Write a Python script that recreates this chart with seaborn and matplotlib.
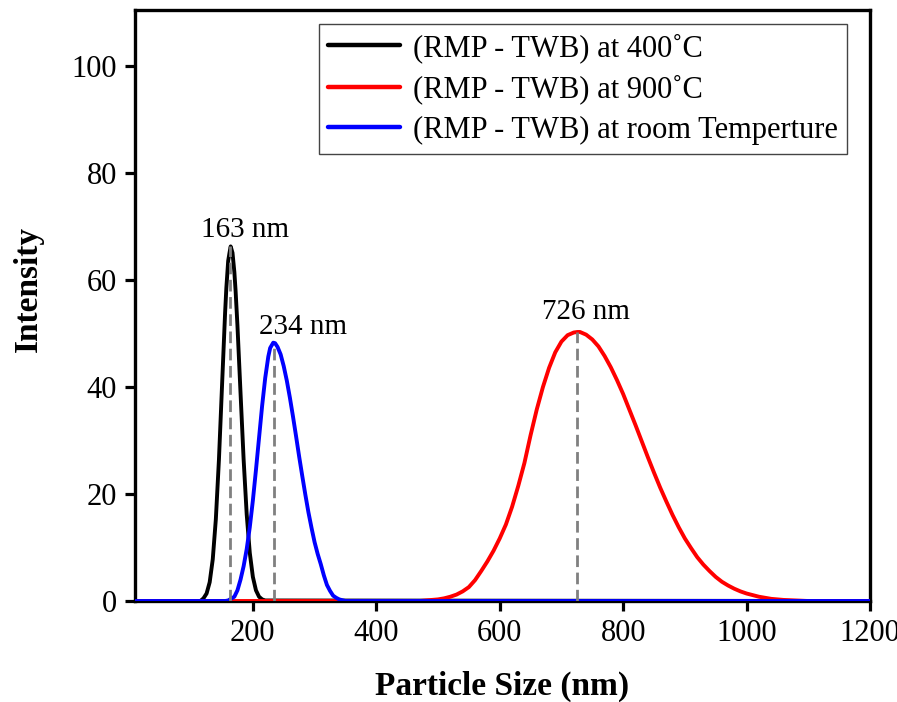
import numpy as np
import pandas as pd
import matplotlib
matplotlib.use("Agg")
import matplotlib.pyplot as plt
import seaborn as sns

# ---- data ----
size_400 = [9, 115, 120, 125, 130, 135, 140, 145, 150, 155, 157, 160, 162, 164, 167, 170, 172, 175,
            180, 185, 190, 195, 200, 205, 210, 215, 220, 1200]
int_400 = [0, 0.0, 0.5, 1.4, 3.5, 7.8, 15.3, 26.4, 40.2, 53.9, 58.5, 63.6, 65.0, 66.3, 65.1, 61.5, 58.0, 51.5,
           38.9, 26.5, 16.2, 9.0, 4.5, 2.0, 0.8, 0.3, 0.1, 0]

size_900 = [9, 470, 480, 490, 500, 510, 520, 530, 540, 550, 560, 570, 580, 590, 600, 610, 620, 630,
            640, 650, 660, 670, 680, 690, 700, 710, 720, 726, 730, 740, 750, 760, 770, 780, 790,
            800, 810, 820, 830, 840, 850, 860, 870, 880, 890, 900, 910, 920, 930, 940, 950, 960,
            970, 980, 990, 1000, 1020, 1040, 1060, 1080, 1100, 1200]
int_900 = [0, 0.0, 0.1, 0.2, 0.3, 0.5, 0.8, 1.2, 1.8, 2.6, 3.9, 5.6, 7.4, 9.4, 11.7, 14.3, 17.6, 21.5,
           25.8, 31.0, 35.8, 40.0, 43.6, 46.5, 48.5, 49.7, 50.2, 50.3, 50.3, 49.8, 48.9, 47.6, 45.8, 43.7, 41.3,
           38.7, 35.8, 32.9, 29.9, 26.9, 24.0, 21.2, 18.6, 16.1, 13.8, 11.7, 9.9, 8.2, 6.8, 5.6, 4.5, 3.6,
           2.9, 2.3, 1.8, 1.4, 0.8, 0.4, 0.2, 0.1, 0.0, 0]

size_rt = [9, 155, 160, 170, 175, 180, 185, 190, 195, 200, 205, 210, 215, 220, 225, 228, 233, 236, 240,
           245, 250, 255, 260, 265, 270, 275, 280, 285, 290, 295, 300, 305, 310, 315, 320, 325, 330,
           335, 340, 350, 1200]
int_rt = [0, 0.0, 0.1, 0.8, 2.0, 4.0, 6.5, 9.7, 13.8, 18.8, 24.5, 30.5, 36.5, 41.7, 45.7, 47.3, 48.3, 48.2, 47.5,
          46.1, 43.9, 41.2, 38.0, 34.5, 30.8, 27.0, 23.4, 19.9, 16.6, 13.7, 11.0, 8.8, 6.9, 4.8, 3.0, 1.9, 1.0,
          0.6, 0.3, 0.0, 0]

series_labels = ["(RMP - TWB) at 400\u02daC",
                 "(RMP - TWB) at 900\u02daC",
                 "(RMP - TWB) at room Temperture"]
series_colors = ["#000000", "#ff0000", "#0000ff"]

peak_pos = [163, 234, 726]
peak_height = [66.3, 48.3, 50.3]
peak_text = ["163 nm", "234 nm", "726 nm"]
text_pos_x = [187, 281, 739]
text_pos_y = [68.0, 50.0, 52.7]

x_ticks = [200, 400, 600, 800, 1000, 1200]
y_ticks = [0, 20, 40, 60, 80, 100]

# ---- style ----
sns.set_style("ticks")
plt.rcParams["font.family"] = ["Liberation Serif", "DejaVu Serif"]
plt.rcParams["mathtext.fontset"] = "stix"
for k in ["text.color", "axes.labelcolor", "xtick.color", "ytick.color", "axes.edgecolor"]:
    plt.rcParams[k] = "black"

fig = plt.figure(figsize=(8.97, 7.02), dpi=100)
ax = fig.add_axes([135 / 897, 1 - 601 / 702, 735 / 897, 591 / 702])

frames = [
    pd.DataFrame({"size": size_400, "intensity": int_400}),
    pd.DataFrame({"size": size_900, "intensity": int_900}),
    pd.DataFrame({"size": size_rt, "intensity": int_rt}),
]
for df, lab, col in zip(frames, series_labels, series_colors):
    sns.lineplot(data=df, x="size", y="intensity", ax=ax, color=col, lw=2.8,
                 label=lab, sort=False, estimator=None, zorder=3,
                 solid_joinstyle="round", solid_capstyle="round")

for px, ph in zip(peak_pos, peak_height):
    ax.plot([px, px], [0, ph], color="#808080", lw=2.0, dashes=(4.2, 2.0), zorder=4)

for tx, ty, tt in zip(text_pos_x, text_pos_y, peak_text):
    ax.text(tx, ty, tt, ha="center", va="baseline", fontsize=21, color="black")

ax.set_xlim(9, 1200)
ax.set_ylim(0, 110.5)
ax.set_xticks(x_ticks)
ax.set_yticks(y_ticks)
ax.tick_params(axis="both", direction="out", length=7, width=2.3, labelsize=22,
               colors="black", pad=6)
ax.tick_params(top=False, right=False)
for s in ax.spines.values():
    s.set_visible(True)
    s.set_linewidth(2.4)
    s.set_color("black")

ax.set_xlabel("Particle Size (nm)", fontsize=24, fontweight="bold", labelpad=16)
ax.set_ylabel("Intensity", fontsize=24, fontweight="bold")
ax.yaxis.set_label_coords(-0.124, 0.528)

leg = ax.legend(loc="upper right", bbox_to_anchor=(0.9687, 0.9763), borderaxespad=0,
                fontsize=22, frameon=True, fancybox=False, framealpha=1,
                edgecolor="#444444", handlelength=2.35, handletextpad=0.42,
                labelspacing=0.38, borderpad=0.3)
leg.get_frame().set_linewidth(1.0)
for line in leg.get_lines():
    line.set_linewidth(3.2)

fig.savefig("out.png", dpi=100)
